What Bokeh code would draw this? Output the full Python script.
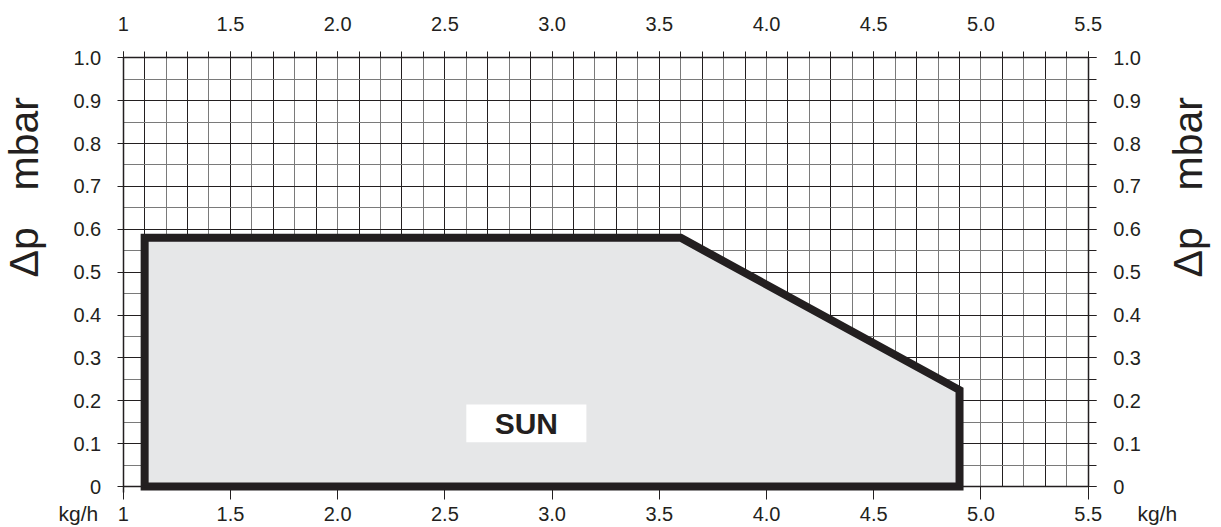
import numpy as np
from bokeh.plotting import figure
from bokeh.models import (LinearAxis, FixedTicker, CustomJSTickFormatter, Grid,
                          Range1d, Label, ColumnDataSource)
from bokeh.core.properties import value
from bokeh.embed import file_html
from bokeh.resources import INLINE

# ---- data -------------------------------------------------------------
x_ticks = [1.0, 1.5, 2.0, 2.5, 3.0, 3.5, 4.0, 4.5, 5.0, 5.5]
x_tick_labels = ["1", "1.5", "2.0", "2.5", "3.0", "3.5", "4.0", "4.5", "5.0", "5.5"]
y_ticks = [0.0, 0.1, 0.2, 0.3, 0.4, 0.5, 0.6, 0.7, 0.8, 0.9, 1.0]
y_tick_labels = ["0", "0.1", "0.2", "0.3", "0.4", "0.5", "0.6", "0.7", "0.8", "0.9", "1.0"]

# working field outline (flow kg/h, pressure mbar)
field_x = [1.1, 1.1, 3.6, 4.9, 4.9]
field_y = [0.0, 0.58, 0.58, 0.225, 0.0]

label_text = ["SUN"]
label_x = [2.88]
label_y = [0.147]
label_box_left = [2.6]
label_box_right = [3.16]
label_box_bottom = [0.103]
label_box_top = [0.191]

x_unit = "kg/h"
y_sym = "Δp"
y_unit = "mbar"

# ---- style / layout ---------------------------------------------------
DARK = "#231f20"
GRAY = "#7a7a7a"
FONT = "Liberation Sans"
W, H = 1221, 527
X0, X1 = x_ticks[0], x_ticks[-1]
Y0, Y1 = y_ticks[0], y_ticks[-1]
# pixel placement of the data window on the canvas
PX_L, PX_R, PY_T, PY_B = 122.7, 1087.7, 57.3, 486.0
sx = (PX_R - PX_L) / (X1 - X0)
sy = (PY_B - PY_T) / (Y1 - Y0)
xr = Range1d(X0 - PX_L / sx, X1 + (W - PX_R) / sx)
yr = Range1d(Y0 - (H - PY_B) / sy, Y1 + PY_T / sy)

p = figure(width=W, height=H, output_backend="svg", toolbar_location=None,
           x_range=xr, y_range=yr, x_axis_location=None, y_axis_location=None,
           background_fill_color="white", border_fill_color="white",
           outline_line_color=None)
p.min_border = 0
p.grid.visible = False

# grid: every 0.1 on x, every 0.05 on y
gx_all = [float(v) for v in np.round(np.arange(X0, X1 + 1e-6, 0.1), 2)]
gy_all = [float(v) for v in np.round(np.arange(Y0, Y1 + 1e-6, 0.05), 2)]
gx_dark = gx_all[1::2]
gx_gray = gx_all[0::2]
gy_dark = gy_all[0::2]
gy_gray = gy_all[1::2]

if "cross_bounds" in Grid.properties():
    p.add_layout(Grid(dimension=0, ticker=FixedTicker(ticks=gx_dark, minor_ticks=gx_gray),
                      bounds=(X0, X1), cross_bounds=(Y0, Y1),
                      grid_line_color=DARK, grid_line_width=1,
                      minor_grid_line_color=GRAY, minor_grid_line_width=1), "center")
    p.add_layout(Grid(dimension=1, ticker=FixedTicker(ticks=gy_dark, minor_ticks=gy_gray),
                      bounds=(Y0, Y1), cross_bounds=(X0, X1),
                      grid_line_color=DARK, grid_line_width=1,
                      minor_grid_line_color=GRAY, minor_grid_line_width=1), "center")
else:
    for xs_, col in [(gx_gray, GRAY), (gx_dark, DARK)]:
        p.segment(x0=xs_, x1=xs_, y0=[Y0] * len(xs_), y1=[Y1] * len(xs_),
                  line_color=col, line_width=1)
    for ys_, col in [(gy_gray, GRAY), (gy_dark, DARK)]:
        p.segment(x0=[X0] * len(ys_), x1=[X1] * len(ys_), y0=ys_, y1=ys_,
                  line_color=col, line_width=1)

fmt_code = """
let b = 0;
for (let i = 0; i < tv.length; i++) {
  if (Math.abs(tv[i] - tick) < Math.abs(tv[b] - tick)) b = i;
}
return lb[b];
"""
xfmt = CustomJSTickFormatter(args=dict(tv=x_ticks, lb=x_tick_labels), code=fmt_code)
yfmt = CustomJSTickFormatter(args=dict(tv=y_ticks, lb=y_tick_labels), code=fmt_code)


def style_axis(ax):
    ax.axis_line_color = DARK
    ax.axis_line_width = 1.5
    ax.major_tick_line_color = DARK
    ax.minor_tick_line_color = DARK
    ax.major_tick_in = 0
    ax.minor_tick_in = 0
    ax.major_label_text_font = FONT
    ax.major_label_text_font_size = "20px"
    ax.major_label_text_color = DARK


top = LinearAxis(ticker=FixedTicker(ticks=x_ticks, minor_ticks=gx_all), formatter=xfmt,
                 fixed_location=Y1, bounds=(X0, X1))
style_axis(top)
top.major_tick_out = 6
top.minor_tick_out = 6
top.major_label_standoff = 21
p.add_layout(top, "above")

bottom = LinearAxis(ticker=FixedTicker(ticks=x_ticks, minor_ticks=[]), formatter=xfmt,
                    fixed_location=Y0, bounds=(X0, X1))
style_axis(bottom)
bottom.major_tick_out = 13
bottom.minor_tick_out = 0
bottom.major_label_standoff = 7
p.add_layout(bottom, "below")

left = LinearAxis(ticker=FixedTicker(ticks=y_ticks, minor_ticks=[]), formatter=yfmt,
                  fixed_location=X0, bounds=(Y0 - 0.015, Y1))
style_axis(left)
left.major_tick_out = 6
left.minor_tick_out = 0
left.major_label_standoff = 16
p.add_layout(left, "left")

right = LinearAxis(ticker=FixedTicker(ticks=y_ticks, minor_ticks=gy_all), formatter=yfmt,
                   fixed_location=X1, bounds=(Y0, Y1))
style_axis(right)
right.major_tick_out = 8
right.minor_tick_out = 8
right.major_label_standoff = 17
p.add_layout(right, "right")

# working field
p.patch(field_x, field_y, fill_color="#e6e7e8", line_color=DARK, line_width=8,
        line_join="miter")

# SUN label box
box_src = ColumnDataSource(dict(left=label_box_left, right=label_box_right,
                                bottom=label_box_bottom, top=label_box_top))
p.quad(left="left", right="right", bottom="bottom", top="top", source=box_src,
       fill_color="white", line_color=None)
txt_src = ColumnDataSource(dict(x=label_x, y=label_y, text=label_text))
p.text(x="x", y="y", text="text", source=txt_src, text_font=value(FONT),
       text_font_style="bold", text_font_size="30px", text_color=DARK,
       text_align="center", text_baseline="middle")

# axis titles (screen px from bottom-left of canvas)
for xs, ys, t in [(23, 337, y_unit), (23, 250, y_sym), (1187, 337, y_unit), (1187, 250, y_sym)]:
    p.add_layout(Label(x=xs, y=ys, x_units="screen", y_units="screen", text=t,
                       angle=np.pi / 2, text_font=FONT, text_font_size="41px",
                       text_color=DARK, text_align="left", text_baseline="alphabetic"))

for xs in [58, 1137]:
    p.add_layout(Label(x=xs, y=14.5, x_units="screen", y_units="screen", text=x_unit,
                       text_font=FONT, text_font_size="21px", text_color=DARK,
                       text_align="left", text_baseline="alphabetic"))

open("out.html", "w").write(file_html(p, INLINE))
